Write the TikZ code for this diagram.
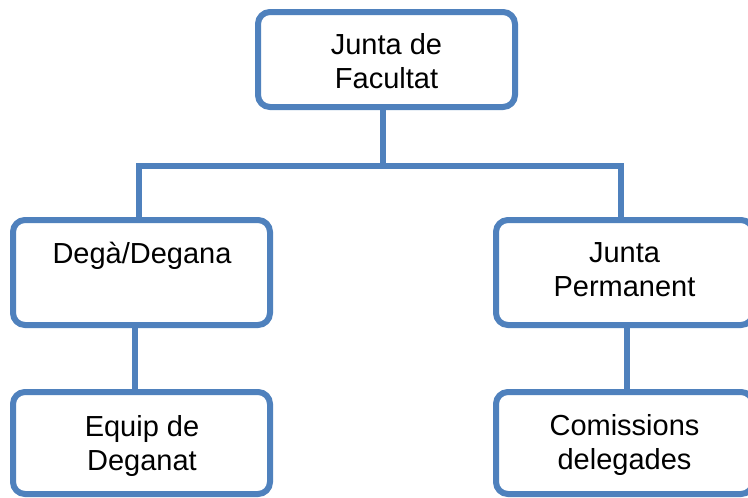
\documentclass[tikz,border=0pt]{standalone}
\usepackage{fontspec}
\setmainfont{Liberation Sans}
\definecolor{boxblue}{HTML}{4F81BD}
\tikzset{
  orgbox/.style={draw=boxblue, fill=white, line width=6pt, rounded corners=12pt,
    minimum width=257pt, inner sep=0pt},
  lbl/.style={anchor=base, inner sep=0pt, font=\fontsize{29}{34}\selectfont, text=black},
  conn/.style={draw=boxblue, line width=6pt}
}
\newcommand{\twolines}[2]{\begin{tabular}[t]{@{}c@{}}#1\\#2\end{tabular}}
\begin{document}
\begin{tikzpicture}[x=1pt,y=1pt]
\useasboundingbox (0,0) rectangle (748,-498);
\clip (0,0) rectangle (748,-498);
\fill[white] (0,0) rectangle (748,-498);
% boxes
\node[orgbox, minimum height=95pt]  (jf) at (386.5,-59.5) {};
\node[orgbox, minimum height=105pt] (dg) at (141.5,-272.5) {};
\node[orgbox, minimum height=105pt] (jp) at (624.5,-272.5) {};
\node[orgbox, minimum height=102pt] (ed) at (141.5,-443) {};
\node[orgbox, minimum height=102pt] (cd) at (624.5,-443) {};
% texts
\node[lbl] (tjf) at (386.5,-54) {\twolines{Junta de}{Facultat}};
\node[lbl] (tdg) at (142,-263) {Degà/Degana};
\node[lbl] (tjp) at (624.5,-262.5) {\twolines{Junta}{Permanent}};
\node[lbl] (ted) at (142,-436) {\twolines{Equip de}{Deganat}};
\node[lbl] (tcd) at (624.5,-435) {\twolines{Comissions}{delegades}};
% connectors
\coordinate (busL) at (139,-166);
\coordinate (busR) at (621,-166);
\coordinate (busM) at (383,-166);
\draw[conn] ([xshift=-3.5pt]jf.south) -- (busM);
\draw[conn] (busL |- dg.north) -- (busL) -- (busR) -- (busR |- jp.north);
\draw[conn] ([xshift=-6.5pt]dg.south) -- ([xshift=-6.5pt]ed.north);
\draw[conn] ([xshift=2.5pt]jp.south) -- ([xshift=2.5pt]cd.north);
\end{tikzpicture}
\end{document}
